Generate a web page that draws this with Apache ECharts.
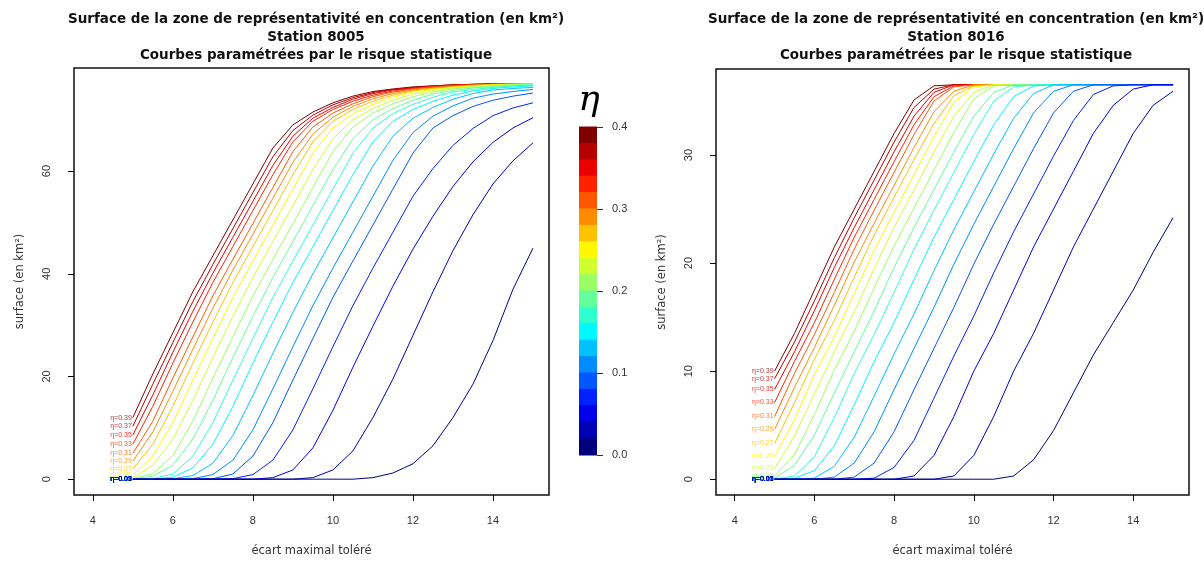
<!DOCTYPE html>
<html>
<head>
<meta charset="utf-8">
<script src="https://cdn.jsdelivr.net/npm/echarts@6/dist/echarts.min.js"></script>
<style>
  html, body { margin: 0; padding: 0; background: #fff; }
  #chart { width: 1204px; height: 562px; }
</style>
</head>
<body>
<div id="chart"></div>
<script>
// Tolerated maximal deviation (x) at which each curve is sampled
const xValues = [5, 5.5, 6, 6.5, 7, 7.5, 8, 8.5, 9, 9.5, 10, 10.5, 11, 11.5, 12, 12.5, 13, 13.5, 14, 14.5, 15];

// Statistical risk levels, one curve per level (drawn from highest to lowest)
const etaLevels = [0.39, 0.37, 0.35, 0.33, 0.31, 0.29, 0.27, 0.25, 0.23, 0.21,
                   0.19, 0.17, 0.15, 0.13, 0.11, 0.09, 0.07, 0.05, 0.03, 0.01];

// Axis ticks
const xTicks = [4, 6, 8, 10, 12, 14];
const yTicks8005 = [0, 20, 40, 60];
const yTicks8016 = [0, 10, 20, 30];
const colorbarTicks = [0, 0.1, 0.2, 0.3, 0.4];

// Station 8005 : surface (km²) per risk level
const st8005_eta39 = [12.0, 20.5, 28.5, 36.5, 43.5, 50.5, 57.5, 64.5, 69.0, 71.5, 73.3, 74.6, 75.5, 76.0, 76.4, 76.6, 76.8, 76.9, 77.0, 77.0, 77.0];
const st8005_eta37 = [10.3, 18.5, 26.6, 34.6, 41.8, 48.8, 55.8, 62.8, 67.9, 70.9, 72.9, 74.3, 75.3, 75.9, 76.3, 76.6, 76.8, 76.9, 77.0, 77.0, 77.0];
const st8005_eta35 = [8.6, 16.4, 24.7, 32.7, 40.1, 47.1, 54.1, 61.1, 66.8, 70.3, 72.4, 74.0, 75.1, 75.8, 76.2, 76.5, 76.7, 76.9, 77.0, 77.0, 77.0];
const st8005_eta33 = [6.8, 14.2, 22.6, 30.6, 38.3, 45.3, 52.3, 59.3, 65.7, 69.7, 72.0, 73.6, 74.8, 75.6, 76.1, 76.4, 76.7, 76.8, 76.9, 77.0, 77.0];
const st8005_eta31 = [5.0, 11.3, 19.7, 27.7, 35.7, 42.8, 49.8, 56.8, 63.8, 68.6, 71.3, 73.1, 74.5, 75.4, 76.0, 76.4, 76.6, 76.8, 76.9, 77.0, 77.0];
const st8005_eta29 = [3.5, 9.2, 17.1, 25.3, 33.3, 40.7, 47.7, 54.7, 61.7, 67.2, 70.5, 72.6, 74.1, 75.1, 75.8, 76.2, 76.5, 76.7, 76.9, 77.0, 77.0];
const st8005_eta27 = [2.0, 6.8, 14.2, 22.6, 30.6, 38.3, 45.3, 52.3, 59.3, 65.7, 69.7, 72.0, 73.6, 74.8, 75.6, 76.1, 76.4, 76.7, 76.8, 76.9, 77.0];
const st8005_eta25 = [0.8, 4.5, 11.0, 19.3, 27.4, 35.4, 42.5, 49.5, 56.5, 63.5, 68.4, 71.2, 73.0, 74.4, 75.4, 75.9, 76.3, 76.6, 76.8, 76.9, 77.0];
const st8005_eta23 = [0.3, 2.7, 7.8, 15.4, 23.7, 31.7, 39.3, 46.3, 53.3, 60.3, 66.3, 70.0, 72.2, 73.8, 75.0, 75.7, 76.2, 76.5, 76.7, 76.8, 76.9];
const st8005_eta21 = [0.1, 1.1, 4.6, 11.3, 19.7, 27.7, 35.7, 42.8, 49.8, 56.8, 63.8, 68.6, 71.3, 73.1, 74.5, 75.4, 76.0, 76.4, 76.6, 76.8, 76.9];
const st8005_eta19 = [0, 0.6, 2.7, 7.8, 15.4, 23.7, 31.7, 39.3, 46.3, 53.3, 60.3, 66.3, 70.0, 72.2, 73.8, 75.0, 75.7, 76.2, 76.5, 76.7, 76.8];
const st8005_eta17 = [0, 0.1, 1.0, 4.5, 11.0, 19.3, 27.4, 35.4, 42.5, 49.5, 56.5, 63.5, 68.4, 71.2, 73.0, 74.4, 75.4, 75.9, 76.3, 76.6, 76.8];
const st8005_eta15 = [0, 0, 0.4, 2.2, 6.8, 14.2, 22.6, 30.6, 38.3, 45.3, 52.3, 59.3, 65.7, 69.7, 72.0, 73.6, 74.8, 75.6, 76.1, 76.4, 76.6];
const st8005_eta13 = [0, 0, 0.1, 0.7, 3.1, 8.5, 16.3, 24.5, 32.5, 40.0, 47.0, 54.0, 61.0, 66.8, 70.3, 72.4, 74.0, 75.1, 75.8, 76.1, 76.3];
const st8005_eta11 = [0, 0, 0, 0.1, 0.9, 3.7, 9.6, 17.6, 25.8, 33.8, 41.1, 48.1, 55.1, 62.1, 67.5, 70.7, 72.7, 74.2, 75.0, 75.5, 75.9];
const st8005_eta09 = [0, 0, 0, 0, 0.1, 1.0, 4.5, 11.0, 19.3, 27.4, 35.4, 42.5, 49.5, 56.5, 63.5, 68.4, 70.8, 72.6, 73.8, 74.6, 75.2];
const st8005_eta07 = [0, 0, 0, 0, 0, 0.1, 0.9, 3.7, 9.6, 17.6, 25.8, 33.8, 41.1, 48.1, 55.1, 60.5, 65.0, 68.3, 70.8, 72.3, 73.3];
const st8005_eta05 = [0, 0, 0, 0, 0, 0, 0, 0.3, 1.8, 6.1, 13.4, 21.8, 29.8, 37.6, 44.8, 51.2, 57.0, 61.8, 65.6, 68.4, 70.4];
const st8005_eta03 = [0, 0, 0, 0, 0, 0, 0, 0, 0, 0.3, 1.8, 5.5, 12.0, 19.5, 28.0, 36.5, 44.5, 51.5, 57.5, 62.0, 65.5];
const st8005_eta01 = [0, 0, 0, 0, 0, 0, 0, 0, 0, 0, 0, 0, 0.3, 1.2, 3.0, 6.5, 12.0, 18.5, 27.0, 37.0, 45.0];

// Station 8016 : surface (km²) per risk level
const st8016_eta39 = [10.0, 13.5, 17.5, 21.5, 25.0, 28.5, 32.0, 35.1, 36.4, 36.5, 36.5, 36.5, 36.5, 36.5, 36.5, 36.5, 36.5, 36.5, 36.5, 36.5, 36.5];
const st8016_eta37 = [9.3, 12.7, 16.5, 20.5, 24.2, 27.7, 31.2, 34.4, 36.1, 36.5, 36.5, 36.5, 36.5, 36.5, 36.5, 36.5, 36.5, 36.5, 36.5, 36.5, 36.5];
const st8016_eta35 = [8.3, 11.8, 15.6, 19.6, 23.3, 26.8, 30.3, 33.6, 35.8, 36.5, 36.5, 36.5, 36.5, 36.5, 36.5, 36.5, 36.5, 36.5, 36.5, 36.5, 36.5];
const st8016_eta33 = [7.1, 10.9, 14.5, 18.5, 22.4, 25.9, 29.4, 32.8, 35.4, 36.4, 36.5, 36.5, 36.5, 36.5, 36.5, 36.5, 36.5, 36.5, 36.5, 36.5, 36.5];
const st8016_eta31 = [5.8, 9.8, 13.4, 17.3, 21.3, 24.9, 28.4, 31.9, 35.0, 36.3, 36.5, 36.5, 36.5, 36.5, 36.5, 36.5, 36.5, 36.5, 36.5, 36.5, 36.5];
const st8016_eta29 = [4.6, 8.5, 12.2, 16.1, 20.1, 23.7, 27.2, 30.7, 34.0, 35.9, 36.5, 36.5, 36.5, 36.5, 36.5, 36.5, 36.5, 36.5, 36.5, 36.5, 36.5];
const st8016_eta27 = [3.3, 7.1, 11.1, 14.7, 18.7, 22.6, 26.1, 29.6, 32.9, 35.5, 36.4, 36.5, 36.5, 36.5, 36.5, 36.5, 36.5, 36.5, 36.5, 36.5, 36.5];
const st8016_eta25 = [2.1, 5.5, 9.7, 13.2, 17.2, 21.2, 24.7, 28.2, 31.7, 34.9, 36.3, 36.5, 36.5, 36.5, 36.5, 36.5, 36.5, 36.5, 36.5, 36.5, 36.5];
const st8016_eta23 = [1.0, 4.0, 7.9, 11.8, 15.5, 19.5, 23.3, 26.8, 30.3, 33.6, 35.8, 36.5, 36.5, 36.5, 36.5, 36.5, 36.5, 36.5, 36.5, 36.5, 36.5];
const st8016_eta21 = [0.3, 2.3, 6.0, 10.1, 13.7, 17.7, 21.6, 25.1, 28.6, 32.1, 35.2, 36.4, 36.5, 36.5, 36.5, 36.5, 36.5, 36.5, 36.5, 36.5, 36.5];
const st8016_eta19 = [0.1, 1.3, 4.1, 8.0, 11.8, 15.6, 19.6, 23.3, 26.8, 30.3, 33.6, 35.8, 36.5, 36.5, 36.5, 36.5, 36.5, 36.5, 36.5, 36.5, 36.5];
const st8016_eta17 = [0, 0.3, 2.1, 5.7, 9.8, 13.4, 17.3, 21.3, 24.9, 28.4, 31.9, 35.0, 36.3, 36.5, 36.5, 36.5, 36.5, 36.5, 36.5, 36.5, 36.5];
const st8016_eta15 = [0, 0.1, 0.8, 3.1, 6.9, 10.9, 14.5, 18.5, 22.4, 25.9, 29.4, 32.8, 35.4, 36.4, 36.5, 36.5, 36.5, 36.5, 36.5, 36.5, 36.5];
const st8016_eta13 = [0, 0, 0.1, 1.2, 3.9, 7.7, 11.6, 15.3, 19.3, 23.1, 26.6, 30.1, 33.4, 35.7, 36.5, 36.5, 36.5, 36.5, 36.5, 36.5, 36.5];
const st8016_eta11 = [0, 0, 0, 0.2, 1.5, 4.4, 8.3, 12.1, 15.9, 19.9, 23.6, 27.1, 30.6, 33.9, 35.9, 36.5, 36.5, 36.5, 36.5, 36.5, 36.5];
const st8016_eta09 = [0, 0, 0, 0, 0.2, 1.5, 4.4, 8.3, 12.1, 15.9, 19.9, 23.6, 27.1, 30.6, 33.9, 35.9, 36.5, 36.5, 36.5, 36.5, 36.5];
const st8016_eta07 = [0, 0, 0, 0, 0, 0.1, 1.1, 3.6, 7.5, 11.4, 15.1, 19.1, 22.9, 26.4, 29.9, 33.2, 35.6, 36.4, 36.5, 36.5, 36.5];
const st8016_eta05 = [0, 0, 0, 0, 0, 0, 0, 0.3, 2.2, 5.8, 10.0, 13.5, 17.5, 21.5, 25.0, 28.5, 32.0, 34.6, 36.1, 36.5, 36.5];
const st8016_eta03 = [0, 0, 0, 0, 0, 0, 0, 0, 0, 0.3, 2.2, 5.8, 10.0, 13.5, 17.5, 21.5, 25.0, 28.5, 32.0, 34.6, 35.9];
const st8016_eta01 = [0, 0, 0, 0, 0, 0, 0, 0, 0, 0, 0, 0, 0.3, 1.8, 4.5, 8.0, 11.5, 14.5, 17.5, 21.0, 24.2];

const curves8005 = [st8005_eta39, st8005_eta37, st8005_eta35, st8005_eta33, st8005_eta31, st8005_eta29, st8005_eta27,
  st8005_eta25, st8005_eta23, st8005_eta21, st8005_eta19, st8005_eta17, st8005_eta15, st8005_eta13, st8005_eta11,
  st8005_eta09, st8005_eta07, st8005_eta05, st8005_eta03, st8005_eta01];
const curves8016 = [st8016_eta39, st8016_eta37, st8016_eta35, st8016_eta33, st8016_eta31, st8016_eta29, st8016_eta27,
  st8016_eta25, st8016_eta23, st8016_eta21, st8016_eta19, st8016_eta17, st8016_eta15, st8016_eta13, st8016_eta11,
  st8016_eta09, st8016_eta07, st8016_eta05, st8016_eta03, st8016_eta01];

// Jet colour ramp, 20 bands over [0, 0.4]
const jetStops = ['#00007F', '#0000FF', '#007FFF', '#00FFFF', '#7FFF7F', '#FFFF00', '#FF7F00', '#FF0000', '#7F0000'];
function hexToRgb(h) { return [1, 3, 5].map(i => parseInt(h.substr(i, 2), 16)); }
function jetPalette(n) {
  const stops = jetStops.map(hexToRgb);
  const out = [];
  for (let i = 0; i < n; i++) {
    const t = i * (stops.length - 1) / (n - 1);
    const k = Math.min(Math.floor(t), stops.length - 2);
    const f = t - k;
    const c = stops[k].map((v, j) => Math.round(v + f * (stops[k + 1][j] - v)));
    out.push('rgb(' + c.join(',') + ')');
  }
  return out;
}
const palette = jetPalette(20);
const bandOf = eta => Math.round((eta - 0.01) / 0.02);

const FONT = 'Liberation Sans, Arial, sans-serif';
const WIDE = 'DejaVu Sans, Verdana, sans-serif';
const axisText = { color: '#333', fontSize: 11, fontFamily: FONT };
const nameText = { color: '#333', fontSize: 11.5, fontFamily: WIDE };

function curveSeries(rows, idx) {
  const lines = rows.map((vals, i) => {
    const color = palette[bandOf(etaLevels[i])];
    return {
      type: 'line', xAxisIndex: idx, yAxisIndex: idx,
      data: xValues.map((x, j) => [x, vals[j]]),
      symbol: 'none', silent: true, animation: false,
      lineStyle: { width: 1, color: color },
      itemStyle: { color: color }
    };
  });
  // η labels at the start of every curve
  const labels = {
    type: 'scatter', xAxisIndex: idx, yAxisIndex: idx, symbolSize: 0, silent: true, animation: false,
    data: rows.map((vals, i) => ({
      value: [xValues[0], vals[0]],
      label: {
        show: true, position: 'left', distance: 1,
        formatter: 'η=' + etaLevels[i].toFixed(2),
        color: palette[bandOf(etaLevels[i])], fontSize: 7, fontFamily: FONT
      }
    }))
  };
  return lines.concat([labels]);
}

function xAxisFor(idx) {
  return {
    gridIndex: idx, type: 'value', min: 3.53, max: 15.4,
    axisLine: { show: false, onZero: false }, splitLine: { show: false },
    axisTick: { show: true, inside: false, length: 6, customValues: xTicks, lineStyle: { color: '#000' } },
    axisLabel: Object.assign({ customValues: xTicks, margin: 20 }, axisText),
    name: 'écart maximal toléré', nameLocation: 'middle', nameGap: 50,
    nameTextStyle: nameText
  };
}
function yAxisFor(idx, min, max, ticks) {
  return {
    gridIndex: idx, type: 'value', min: min, max: max,
    axisLine: { show: false, onZero: false }, splitLine: { show: false },
    axisTick: { show: true, length: 6, customValues: ticks, lineStyle: { color: '#000' } },
    axisLabel: Object.assign({ customValues: ticks, rotate: 90, margin: 22 }, axisText),
    name: 'surface (en km²)', nameLocation: 'middle', nameGap: 48, nameRotate: 90,
    nameTextStyle: nameText
  };
}

const titleStyle = { fontFamily: WIDE, fontSize: 13.5, fontWeight: 'bold', lineHeight: 18, color: '#111' };

const option = {
  backgroundColor: '#fff',
  animation: false,
  title: [
    { text: 'Surface de la zone de représentativité en concentration (en km²)\nStation 8005\nCourbes paramétrées par le risque statistique',
      left: 311, top: 5, textAlign: 'center', textStyle: titleStyle },
    { text: 'Surface de la zone de représentativité en concentration (en km²)\nStation 8016\nCourbes paramétrées par le risque statistique',
      left: 951, top: 5, textAlign: 'center', textStyle: titleStyle },
    { text: 'η', left: 584, top: 78, textAlign: 'center',
      textStyle: { fontFamily: 'DejaVu Serif, serif', fontStyle: 'italic', fontWeight: 'normal', fontSize: 36, color: '#000' } }
  ],
  grid: [
    { left: 74, top: 68, width: 475, height: 427, show: true, borderColor: '#111', borderWidth: 1.5, backgroundColor: 'transparent' },
    { left: 716, top: 69, width: 473, height: 426, show: true, borderColor: '#111', borderWidth: 1.5, backgroundColor: 'transparent' },
    { left: 579, top: 127, width: 18, height: 328, show: false }
  ],
  xAxis: [
    xAxisFor(0),
    xAxisFor(1),
    { gridIndex: 2, type: 'value', min: 0, max: 1, show: false }
  ],
  yAxis: [
    yAxisFor(0, -3.08, 80.08, yTicks8005),
    yAxisFor(1, -1.46, 37.96, yTicks8016),
    { gridIndex: 2, type: 'value', min: 0, max: 0.4, position: 'right',
      axisLine: { show: false, onZero: false }, splitLine: { show: false },
      axisTick: { show: true, length: 6, customValues: colorbarTicks, lineStyle: { color: '#333' } },
      axisLabel: Object.assign({ customValues: colorbarTicks, margin: 15, formatter: v => v.toFixed(1) }, axisText) }
  ],
  series: curveSeries(curves8005, 0)
    .concat(curveSeries(curves8016, 1))
    .concat([{
      type: 'custom', xAxisIndex: 2, yAxisIndex: 2, silent: true, animation: false,
      data: etaLevels.map(e => [e - 0.01, e + 0.01, bandOf(e)]),
      renderItem: function (params, api) {
        const p0 = api.coord([0, api.value(0)]);
        const p1 = api.coord([1, api.value(1)]);
        return {
          type: 'rect',
          shape: { x: p0[0], y: p1[1] - 0.5, width: p1[0] - p0[0], height: p0[1] - p1[1] + 1 },
          style: { fill: palette[api.value(2)] }
        };
      }
    }])
};

const chart = echarts.init(document.getElementById('chart'), null, { renderer: 'canvas' });
chart.setOption(option);
</script>
</body>
</html>
